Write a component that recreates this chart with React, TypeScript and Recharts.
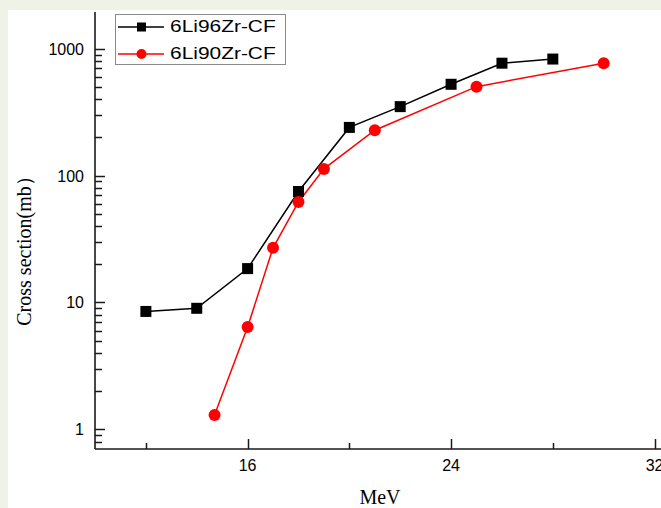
import { Legend, Line, LineChart, XAxis, YAxis } from "recharts";

// energies (MeV) and cross sections (mb)
const energy96 = [12, 14, 16, 18, 20, 22, 24, 26, 28];
const sigma96 = [8.5, 9.0, 18.5, 75, 240, 350, 525, 770, 830];

const energy90 = [14.7, 16, 17, 18, 19, 21, 25, 30];
const sigma90 = [1.3, 6.4, 27, 62, 113, 228, 503, 770];

const xTicks = [12, 16, 20, 24, 28, 32];
const xLabels = [16, 24, 32];
const yTicks = [
  0.8, 0.9, 1, 2, 3, 4, 5, 6, 7, 8, 9, 10, 20, 30, 40, 50, 60, 70, 80, 90,
  100, 200, 300, 400, 500, 600, 700, 800, 900, 1000,
];
const yLabels = [1, 10, 100, 1000];

const series = [
  { name: "6Li96Zr-CF", color: "#000000", shape: "square" },
  { name: "6Li90Zr-CF", color: "#ff0000", shape: "circle" },
];

const data96 = energy96.map((e, i) => ({ e, v: sigma96[i] }));
const data90 = energy90.map((e, i) => ({ e, v: sigma90[i] }));

const axisColor = "#1a1a1a";

function XTick(props: any) {
  const { x, y, payload } = props;
  const major = xLabels.includes(payload.value);
  const px = Math.round(x) + 0.5;
  return (
    <g>
      <line x1={px} x2={px} y1={y} y2={y - (major ? 10 : 6)} stroke={axisColor} strokeWidth={1.5} />
      {major && (
        <text x={x} y={y + 22} textAnchor="middle" fontFamily="Liberation Sans, Arial" fontSize={16} fill="#000">
          {payload.value}
        </text>
      )}
    </g>
  );
}

function YTick(props: any) {
  const { x, y, payload } = props;
  const major = yLabels.includes(payload.value);
  const py = Math.round(y) + 0.5;
  return (
    <g>
      <line x1={x} x2={x + (major ? 10 : 7)} y1={py} y2={py} stroke={axisColor} strokeWidth={1.5} />
      {major && (
        <text x={x - 11} y={y + 6} textAnchor="end" fontFamily="Liberation Sans, Arial" fontSize={16} fill="#000">
          {payload.value}
        </text>
      )}
    </g>
  );
}

function SquareDot(props: any) {
  const { cx, cy } = props;
  if (cx == null || cy == null) return null;
  return <rect x={cx - 5.5} y={cy - 5.5} width={11} height={11} fill="#000" />;
}

function CircleDot(props: any) {
  const { cx, cy } = props;
  if (cx == null || cy == null) return null;
  return <circle cx={cx} cy={cy} r={6} fill="#ff0000" />;
}

function LegendBox() {
  return (
    <div
      style={{
        width: 169,
        height: 49,
        border: "1px solid #8a8a8a",
        background: "#fff",
        boxSizing: "content-box",
      }}
    >
      {series.map((s, i) => (
        <div key={s.name} style={{ position: "absolute", left: 3, top: i === 0 ? 3 : 30, height: 20, display: "flex", alignItems: "center" }}>
          <svg width={46} height={20}>
            <line x1={0} x2={46} y1={10} y2={10} stroke={s.color} strokeWidth={1.5} />
            {s.shape === "square" ? (
              <rect x={19} y={5.5} width={9} height={9} fill={s.color} />
            ) : (
              <circle cx={23.5} cy={10} r={5} fill={s.color} />
            )}
          </svg>
          <span
            style={{
              marginLeft: 6,
              fontFamily: "Liberation Sans, Arial",
              fontSize: 17,
              color: "#000",
              display: "inline-block",
              transform: "scaleX(1.23)",
              transformOrigin: "left center",
              whiteSpace: "nowrap",
            }}
          >
            {s.name}
          </span>
        </div>
      ))}
    </div>
  );
}

export default function App() {
  return (
    <div
      style={{
        position: "absolute",
        left: 0,
        top: 0,
        width: 661,
        height: 508,
        overflow: "hidden",
        background: "#eff2e7",
      }}
    >
      <div style={{ position: "absolute", left: 8, top: 10, width: 653, height: 498, background: "#fff" }} />
      <div style={{ position: "absolute", left: 0, top: 0 }}>
        <LineChart width={700} height={508} margin={{ top: 12, right: 20, bottom: 0, left: 0 }}>
          <XAxis
            dataKey="e"
            type="number"
            domain={[10, 33]}
            ticks={xTicks}
            interval={0}
            allowDataOverflow
            tickSize={0}
            tickMargin={0}
            tick={<XTick />}
            axisLine={{ stroke: axisColor, strokeWidth: 1.6 }}
            height={59}
            label={() => (
              <text x={380} y={504} textAnchor="middle" fontFamily="Liberation Serif, Times New Roman" fontSize={20} fill="#000">
                MeV
              </text>
            )}
          />
          <XAxis
            xAxisId="top"
            orientation="top"
            type="number"
            domain={[10, 33]}
            tick={false}
            tickLine={false}
            height={0}
            axisLine={{ stroke: axisColor, strokeWidth: 1.6 }}
          />
          <YAxis
            dataKey="v"
            scale="log"
            domain={[0.7, 1950]}
            ticks={yTicks}
            allowDataOverflow
            tickSize={0}
            tickMargin={0}
            tick={<YTick />}
            width={95}
            interval={0}
            axisLine={{ stroke: axisColor, strokeWidth: 1.6 }}
            label={() => (
              <text
                x={31}
                y={246}
                transform="rotate(-90 31 246)"
                textAnchor="middle"
                fontFamily="Liberation Serif, Times New Roman"
                fontSize={20}
                fill="#000"
              >
                Cross section(mb）
              </text>
            )}
          />
          <Legend
            layout="vertical"
            align="center"
            verticalAlign="middle"
            content={() => <LegendBox />}
            wrapperStyle={{ position: "absolute", left: 115, top: 14, width: 171, height: 51 }}
          />
          <Line
            data={data96}
            dataKey="v"
            name={series[0].name}
            stroke="#000"
            strokeWidth={1.5}
            dot={<SquareDot />}
            activeDot={false}
            isAnimationActive={false}
          />
          <Line
            data={data90}
            dataKey="v"
            name={series[1].name}
            stroke="#ff0000"
            strokeWidth={1.5}
            dot={<CircleDot />}
            activeDot={false}
            isAnimationActive={false}
          />
        </LineChart>
      </div>
    </div>
  );
}
